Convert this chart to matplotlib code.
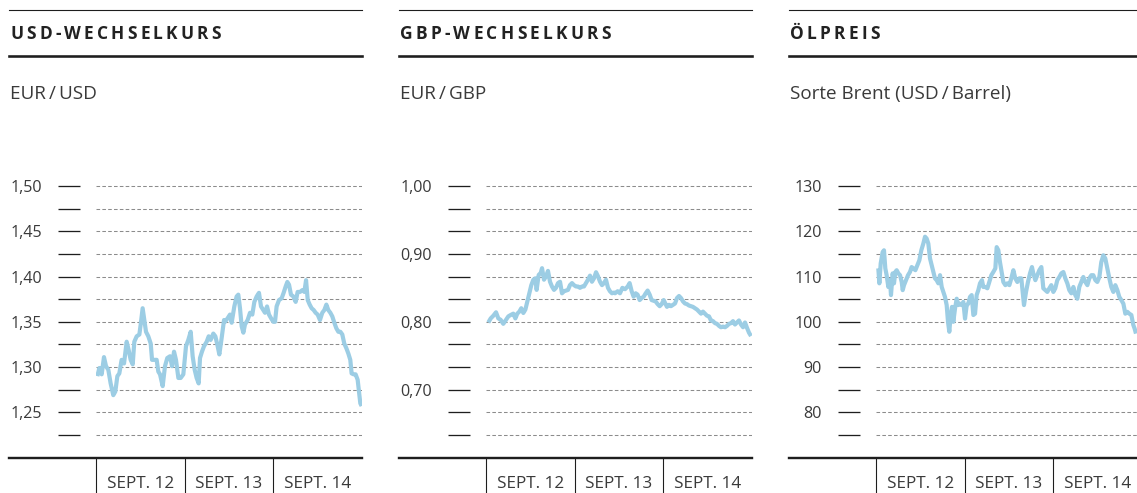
import matplotlib
matplotlib.use("Agg")
import numpy as np
import matplotlib.pyplot as plt
from matplotlib.lines import Line2D
from matplotlib.font_manager import FontProperties

plt.rcParams['font.family'] = ['Open Sans', 'DejaVu Sans']
plt.rcParams['lines.scale_dashes'] = False

# ---- data (t = position on time axis, one unit per labelled period) ----
titles = ["USD-WECHSELKURS", "GBP-WECHSELKURS", "ÖLPREIS"]
subtitles = ["EUR\u2009/\u2009USD", "EUR\u2009/\u2009GBP", "Sorte Brent (USD\u2009/\u2009Barrel)"]
periods = ["SEPT. 12", "SEPT. 13", "SEPT. 14"]

t_usd = [0.015, 0.038, 0.064, 0.090, 0.113, 0.139, 0.165, 0.195, 0.218, 0.241,
         0.263, 0.289, 0.316, 0.346, 0.368, 0.391, 0.414, 0.432, 0.459, 0.489,
         0.504, 0.526, 0.545, 0.564, 0.590, 0.617, 0.632, 0.654, 0.684, 0.703,
         0.722, 0.752, 0.778, 0.804, 0.835, 0.857, 0.880, 0.902, 0.929, 0.955,
         0.985, 1.015, 1.041, 1.068, 1.090, 1.113, 1.135, 1.158, 1.173, 1.195,
         1.218, 1.248, 1.271, 1.293, 1.323, 1.346, 1.368, 1.391, 1.417, 1.444,
         1.455, 1.485, 1.511, 1.530, 1.560, 1.586, 1.605, 1.624, 1.643, 1.662,
         1.680, 1.710, 1.737, 1.763, 1.786, 1.812, 1.838, 1.861, 1.887, 1.906,
         1.929, 1.951, 1.974, 2.000, 2.019, 2.037, 2.064, 2.094, 2.116, 2.139,
         2.158, 2.177, 2.199, 2.226, 2.252, 2.274, 2.301, 2.327, 2.350, 2.369,
         2.388, 2.410, 2.432, 2.455, 2.477, 2.500, 2.526, 2.552, 2.575, 2.598,
         2.620, 2.643, 2.665, 2.688, 2.710, 2.733, 2.756, 2.778, 2.800, 2.823,
         2.846, 2.868, 2.883, 2.906, 2.928, 2.951, 2.966, 2.981, 2.996]
usd = [1.290, 1.299, 1.292, 1.311, 1.301, 1.297, 1.282, 1.269, 1.273, 1.290,
       1.293, 1.308, 1.304, 1.328, 1.319, 1.308, 1.303, 1.328, 1.334, 1.336,
       1.347, 1.365, 1.352, 1.339, 1.334, 1.326, 1.308, 1.308, 1.308, 1.295,
       1.292, 1.279, 1.301, 1.310, 1.312, 1.301, 1.317, 1.308, 1.288, 1.288,
       1.292, 1.323, 1.330, 1.339, 1.312, 1.297, 1.288, 1.282, 1.310, 1.317,
       1.323, 1.328, 1.334, 1.330, 1.337, 1.334, 1.325, 1.314, 1.332, 1.352,
       1.350, 1.354, 1.358, 1.349, 1.367, 1.378, 1.380, 1.365, 1.345, 1.338,
       1.347, 1.352, 1.360, 1.358, 1.372, 1.378, 1.382, 1.367, 1.363, 1.360,
       1.367, 1.358, 1.354, 1.350, 1.350, 1.367, 1.374, 1.376, 1.382, 1.389,
       1.394, 1.391, 1.380, 1.378, 1.372, 1.383, 1.383, 1.385, 1.383, 1.396,
       1.374, 1.369, 1.365, 1.363, 1.360, 1.358, 1.352, 1.360, 1.363, 1.369,
       1.363, 1.360, 1.356, 1.349, 1.343, 1.339, 1.339, 1.336, 1.326, 1.321,
       1.315, 1.308, 1.293, 1.292, 1.292, 1.286, 1.273, 1.260, 1.257]

t_gbp = [0.026, 0.053, 0.083, 0.113, 0.139, 0.165, 0.195, 0.226, 0.252, 0.278,
         0.308, 0.331, 0.353, 0.376, 0.398, 0.421, 0.444, 0.466, 0.489, 0.511,
         0.534, 0.556, 0.571, 0.594, 0.617, 0.632, 0.654, 0.677, 0.699, 0.722,
         0.744, 0.767, 0.789, 0.812, 0.835, 0.857, 0.880, 0.902, 0.925, 0.947,
         0.970, 0.992, 1.015, 1.038, 1.060, 1.083, 1.105, 1.128, 1.150, 1.173,
         1.195, 1.218, 1.241, 1.263, 1.286, 1.308, 1.331, 1.353, 1.376, 1.398,
         1.421, 1.444,
         1.455, 1.485, 1.511, 1.538, 1.568, 1.598, 1.620, 1.643, 1.665, 1.688,
         1.710, 1.733, 1.756, 1.778, 1.801, 1.823, 1.846, 1.868, 1.891, 1.913,
         1.936, 1.959, 1.981, 2.004, 2.019, 2.041, 2.064, 2.086, 2.109, 2.132,
         2.154, 2.177, 2.199, 2.222, 2.244, 2.267, 2.289, 2.312, 2.334, 2.357,
         2.380, 2.402, 2.425, 2.447, 2.470, 2.492, 2.515, 2.537, 2.560, 2.583,
         2.605, 2.628, 2.650, 2.673, 2.696, 2.718, 2.741, 2.763, 2.786, 2.808,
         2.831, 2.853, 2.876, 2.899, 2.921, 2.944, 2.966, 2.989]
gbp = [0.799, 0.805, 0.809, 0.814, 0.805, 0.803, 0.797, 0.803, 0.808, 0.810,
       0.812, 0.805, 0.812, 0.815, 0.820, 0.813, 0.818, 0.830, 0.842, 0.854,
       0.862, 0.864, 0.847, 0.869, 0.872, 0.879, 0.862, 0.867, 0.875, 0.859,
       0.852, 0.847, 0.850, 0.857, 0.859, 0.842, 0.845, 0.846, 0.847, 0.854,
       0.857, 0.854, 0.852, 0.852, 0.850, 0.852, 0.852, 0.857, 0.862, 0.868,
       0.859, 0.864, 0.873, 0.867, 0.859, 0.854, 0.857, 0.862, 0.850, 0.845,
       0.842, 0.843,
       0.842, 0.845, 0.842, 0.850, 0.848, 0.852, 0.857, 0.845, 0.837, 0.842,
       0.840, 0.832, 0.835, 0.837, 0.842, 0.846, 0.840, 0.832, 0.831, 0.830,
       0.826, 0.823, 0.826, 0.832, 0.828, 0.822, 0.825, 0.823, 0.825, 0.827,
       0.835, 0.838, 0.835, 0.830, 0.827, 0.826, 0.824, 0.823, 0.822, 0.820,
       0.818, 0.815, 0.812, 0.815, 0.812, 0.809, 0.808, 0.802, 0.801, 0.798,
       0.797, 0.794, 0.792, 0.793, 0.792, 0.794, 0.797, 0.798, 0.801, 0.796,
       0.799, 0.802, 0.796, 0.792, 0.799, 0.791, 0.784, 0.779]

t_oil = [0.026, 0.038, 0.053, 0.075, 0.090, 0.105, 0.120, 0.139, 0.158, 0.169,
         0.188, 0.203, 0.218, 0.233, 0.252, 0.271, 0.290, 0.301, 0.316, 0.338,
         0.361, 0.383, 0.402, 0.421, 0.444, 0.466, 0.489, 0.511, 0.534, 0.553,
         0.571, 0.590, 0.609, 0.628, 0.647, 0.665, 0.684, 0.703, 0.722, 0.741,
         0.759, 0.778, 0.797, 0.812, 0.827, 0.842, 0.857, 0.872, 0.891, 0.910,
         0.929, 0.947, 0.966, 0.985, 1.004, 1.023, 1.041, 1.060, 1.079, 1.098,
         1.117, 1.135, 1.154, 1.173, 1.195, 1.210, 1.233, 1.256, 1.278, 1.301,
         1.323, 1.346, 1.361, 1.380, 1.398,
         1.436, 1.459, 1.481, 1.504, 1.526, 1.549, 1.571, 1.594, 1.616, 1.639,
         1.654, 1.669, 1.692, 1.714, 1.737, 1.759, 1.774, 1.797, 1.820, 1.842,
         1.865, 1.887, 1.910, 1.932, 1.955, 1.977, 2.000, 2.022, 2.045, 2.068,
         2.090, 2.113, 2.135, 2.158, 2.180, 2.203, 2.226, 2.248, 2.271, 2.293,
         2.316, 2.338, 2.361, 2.384, 2.406, 2.429, 2.451, 2.474, 2.496, 2.519,
         2.541, 2.564, 2.586, 2.609, 2.632, 2.654, 2.677, 2.699, 2.722, 2.744,
         2.767, 2.790, 2.812, 2.835, 2.857, 2.880, 2.902, 2.917, 2.932]
oil = [111.8, 108.5, 112.9, 115.4, 115.8, 111.8, 110.3, 107.7, 109.2, 105.9,
       110.7, 108.5, 111.0, 111.4, 110.7, 110.3, 108.8, 107.0, 108.1, 109.2,
       110.3, 111.0, 112.1, 111.8, 111.4, 112.5, 113.6, 115.8, 117.3, 118.8,
       118.4, 117.3, 114.0, 112.5, 111.0, 109.6, 109.2, 108.5, 110.3, 107.7,
       106.6, 105.5, 103.7, 100.0, 97.8, 101.5, 103.3, 100.0, 102.9, 105.1,
       103.7, 104.0, 103.7, 104.4, 100.7, 103.7, 104.0, 105.5, 105.9, 101.5,
       101.8, 105.9, 107.0, 108.5, 109.2, 107.7, 107.7, 107.4, 108.8, 110.3,
       111.0, 111.8, 116.5, 115.8, 113.2,
       108.8, 108.1, 108.5, 108.1, 109.6, 111.4, 109.6, 108.8, 109.6, 109.6,
       106.6, 103.7, 106.6, 108.8, 110.7, 112.1, 110.7, 109.2, 110.3, 111.4,
       112.1, 107.4, 107.0, 106.6, 107.4, 108.1, 106.6, 107.4, 109.2, 109.9,
       110.7, 111.0, 109.6, 108.5, 107.0, 106.3, 107.7, 105.9, 105.1, 107.7,
       108.8, 109.9, 108.8, 108.1, 109.6, 110.3, 110.3, 109.2, 108.8, 109.9,
       113.2, 114.7, 114.0, 111.8, 109.6, 107.7, 106.6, 108.1, 107.0, 105.5,
       104.8, 104.0, 101.8, 102.2, 101.8, 101.5, 99.3, 98.5, 97.4]

usd_ticks = [1.500, 1.475, 1.450, 1.425, 1.400, 1.375, 1.350, 1.325, 1.300, 1.275, 1.250, 1.225]
usd_labels = ["1,50", "", "1,45", "", "1,40", "", "1,35", "", "1,30", "", "1,25", ""]
gbp_ticks = [1.000, 0.9667, 0.9333, 0.900, 0.8667, 0.8333, 0.800, 0.7667, 0.7333, 0.700, 0.6667, 0.6333]
gbp_labels = ["1,00", "", "", "0,90", "", "", "0,80", "", "", "0,70", "", ""]
oil_ticks = [130, 125, 120, 115, 110, 105, 100, 95, 90, 85, 80, 75]
oil_labels = ["130", "", "120", "", "110", "", "100", "", "90", "", "80", ""]

# ---- figure ----
W, H = 1137, 493
fig = plt.figure(figsize=(W / 100, H / 100), dpi=100)
PT = 72 / 100  # points per pixel


def fx(px):
    return px / W


def fy(py):
    return 1 - py / H


LINE = '#1e1e1e'
TEXT = '#3a3a3a'
BLUE = '#9ccde4'

title_prop = FontProperties(family=['Open Sans', 'DejaVu Sans'], weight='bold', size=12.5)
renderer = fig.canvas.get_renderer()


def tracked_text(x_px, base_px, s, prop, tracking, color):
    # letter-spaced text, one glyph at a time
    for i, ch in enumerate(s):
        if ch == ' ':
            continue
        w_pre = renderer.get_text_width_height_descent(s[:i + 1], prop, ismath=False)[0]
        w_ch = renderer.get_text_width_height_descent(ch, prop, ismath=False)[0]
        fig.text(fx(x_px + w_pre - w_ch + i * tracking), fy(base_px), ch,
                 fontproperties=prop, color=color, ha='left', va='baseline')


series = [(t_usd, usd, usd_ticks, usd_labels),
          (t_gbp, gbp, gbp_ticks, gbp_labels),
          (t_oil, oil, oil_ticks, oil_labels)]

for i, (t, v, ticks, labels) in enumerate(series):
    ox = 390 * i

    # header rules and texts
    fig.add_artist(Line2D([fx(9 + ox), fx(362 + ox)], [fy(9.5), fy(9.5)], color=LINE, lw=1.1 * PT))
    fig.add_artist(Line2D([fx(9 + ox), fx(362 + ox)], [fy(55.5), fy(55.5)], color=LINE, lw=2.6 * PT))
    tracked_text(10 + ox, 39, titles[i], title_prop, 3.2, '#222222')
    fig.text(fx(10 + ox), fy(99), subtitles[i], fontsize=13.6, color=TEXT, ha='left', va='baseline')

    # chart area: ticks from y=186 to y=435 px, margin 6 px
    top_px, bot_px, m_px = 186, 435, 6
    ax = fig.add_axes([fx(96 + ox), fy(bot_px + m_px), (266) / W, (bot_px - top_px + 2 * m_px) / H])
    span = ticks[0] - ticks[-1]
    m = span * m_px / (bot_px - top_px)
    ax.set_ylim(ticks[-1] - m, ticks[0] + m)
    ax.set_xlim(0, 3)
    ax.patch.set_alpha(0)

    ax.set_yticks(ticks)
    ax.set_yticklabels(labels)
    ax.yaxis.grid(True, color='#8c8c8c', lw=0.75, linestyle=(0, (2.6, 1.6)))
    ax.set_axisbelow(True)
    ax.tick_params(axis='y', direction='out', length=22 * PT, width=1.3 * PT, color=LINE,
                   pad=16 * PT, labelsize=11.6, labelcolor=TEXT)

    for s in ['top', 'right']:
        ax.spines[s].set_visible(False)
    ax.spines['left'].set_position(('outward', 16 * PT))
    ax.spines['left'].set_visible(False)
    ax.spines['bottom'].set_position(('outward', (457.5 - bot_px - m_px) * PT))
    ax.spines['bottom'].set_linewidth(2.4 * PT)
    ax.spines['bottom'].set_color(LINE)
    ax.spines['bottom'].set_bounds(-87 / 88.67, 3)

    ax.set_xticks([0, 1, 2])
    ax.set_xticklabels([])
    ax.set_xticks([0.5, 1.5, 2.5], minor=True)
    ax.set_xticklabels(periods, minor=True)
    ax.tick_params(axis='x', which='major', direction='out', length=45 * PT, width=1.1 * PT, color=LINE)
    ax.tick_params(axis='x', which='minor', length=0, pad=18 * PT, labelsize=12.3, labelcolor=TEXT)

    ax.plot(t, v, color=BLUE, lw=3.0, solid_joinstyle='round', solid_capstyle='butt', zorder=3)

fig.savefig("out.png", dpi=100)
